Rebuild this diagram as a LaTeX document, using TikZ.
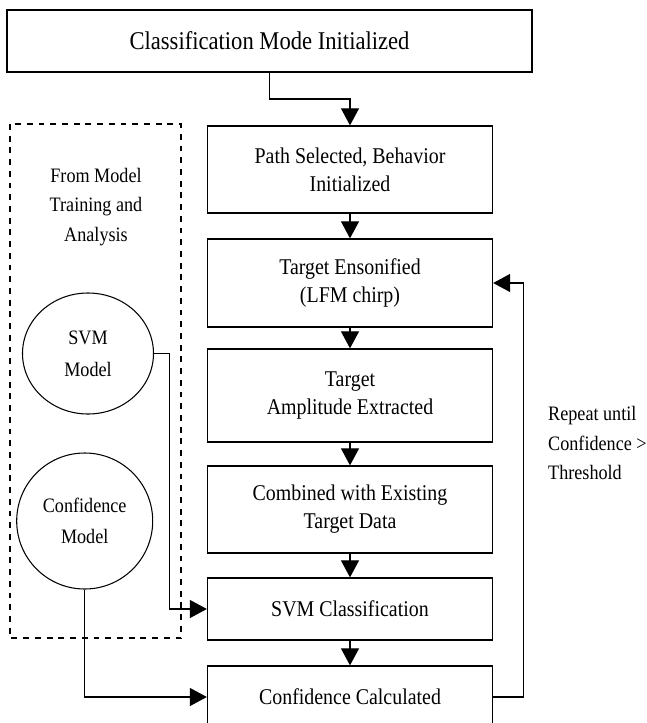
\documentclass[tikz,border=0pt]{standalone}
\usepackage{fontspec}
\setmainfont{Liberation Serif}[FakeStretch=0.885]
\usetikzlibrary{arrows.meta,shapes.geometric}

\begin{document}
\begin{tikzpicture}[x=0.03cm,y=-0.03cm,
  box/.style={draw,line width=1.1pt,minimum width=8.55cm,inner sep=0pt,align=center,
    font=\fontsize{19.2}{24}\selectfont},
  model/.style={draw,ellipse,line width=0.9pt,inner sep=0pt,align=center,
    font=\fontsize{17.5}{27}\selectfont},
  note/.style={align=center,inner sep=0pt,font=\fontsize{17.5}{25}\selectfont},
  arr/.style={line width=0.9pt,-{Triangle[length=0.51cm,width=0.54cm]}}]
  \useasboundingbox (0,0) rectangle (647,723);

  % main flow
  \node[box,minimum width=15.75cm,minimum height=1.86cm,
    font=\fontsize{21.8}{24}\selectfont] (init) at (269.5,41) {Classification Mode Initialized};
  \node[box,minimum height=2.61cm] (path) at (350,169.5) {Path Selected, Behavior\\Initialized};
  \node[box,minimum height=2.64cm] (enson) at (350,283) {Target Ensonified\\(LFM chirp)};
  \node[box,minimum height=2.79cm] (ampl) at (350,395.5) {Target\\Amplitude Extracted};
  \node[box,minimum height=2.61cm] (comb) at (350,509.5) {Combined with Existing\\Target Data};
  \node[box,minimum height=1.86cm] (svmc) at (350,609) {SVM Classification};
  \node[box,minimum height=1.86cm] (conf) at (350,697) {Confidence Calculated};

  % models from training
  \draw[line width=0.9pt,dash pattern=on 5pt off 5pt] (10,124) rectangle (181,638);
  \node[note] (src) at (96,207) {From Model\\Training and\\Analysis};
  \node[model,minimum width=3.93cm,minimum height=3.63cm] (svm) at (88,353.5) {SVM\\Model};
  \node[model,minimum width=4.08cm,minimum height=4.08cm] (confm) at (84.7,521) {Confidence\\Model};

  \node[note,anchor=west,align=left] (loop) at (548,443) {Repeat until\\Confidence >\\Threshold};

  % connectors
  \coordinate (bend) at (350,99);
  \draw[arr] (init.south) |- (bend) -- (path.north);
  \draw[arr] (path) -- (enson);
  \draw[arr] (enson) -- (ampl);
  \draw[arr] (ampl) -- (comb);
  \draw[arr] (comb) -- (svmc);
  \draw[arr] (svmc) -- (conf);
  \draw[arr] (svm.east) -- ++(15,0) |- (svmc.west);
  \draw[arr] (confm.south) |- (conf.west);
  \draw[arr] (conf.east) -- ++(30,0) |- (enson.east);
\end{tikzpicture}
\end{document}
